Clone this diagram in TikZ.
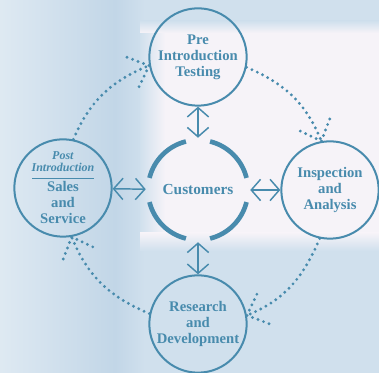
\documentclass[tikz,border=0pt]{standalone}
\usepackage{fontspec}
\setmainfont{Liberation Serif}
\usetikzlibrary{arrows.meta,decorations.markings}

\definecolor{cycleblue}{RGB}{72,139,173}
\definecolor{bgblue}{RGB}{208,224,237}
\definecolor{bgdeep}{RGB}{194,214,231}
\definecolor{bgwhite}{RGB}{246,243,248}

\tikzset{
  bubble/.style={circle,draw=cycleblue,line width=1.5pt,minimum size=73pt,inner sep=0pt,
    text=cycleblue,align=center,font=\bfseries\fontsize{11}{12}\selectfont},
  link/.style={cycleblue,line width=1.1pt,
    {Straight Barb[length=7pt,width=16pt]}-{Straight Barb[length=7pt,width=16pt]}},
  dotted line/.style={cycleblue,line width=2.4pt,line cap=round,dash pattern=on 0pt off 4.4pt},
  dotarrow/.style={dotted line,postaction={decorate},
    decoration={markings,mark=at position 1 with
      {\draw[dotted line] (-13pt,12pt) -- (0,0) -- (-13pt,-12pt);}}},
}

\begin{document}
\begin{tikzpicture}[x=0.75pt,y=0.75pt]
\useasboundingbox (0,0) rectangle (379,373);
% blurred backdrop
\fill[bgblue] (0,0) rectangle (379,373);
\shade[left color=bgblue!70!white,right color=bgdeep] (0,0) rectangle (115,373);
\shade[left color=bgdeep,right color=bgblue] (115,0) rectangle (145,373);
\fill[bgwhite] (165,140) rectangle (379,340);
\shade[left color=bgblue,right color=bgwhite] (140,140) rectangle (165,340);
\shade[top color=bgblue,bottom color=bgwhite] (140,340) rectangle (379,352);
\shade[top color=bgwhite,bottom color=bgblue] (140,122) rectangle (379,140);

\node (cust) [circle,minimum size=78pt,inner sep=0pt,text=cycleblue,
  font=\bfseries\fontsize{11.5}{14}\selectfont] at (198,183) {Customers};
\foreach \a in {0,90,180,270}
  \draw[cycleblue,line width=3.5pt] ([shift={(\a+14:50)}]cust.center)
    arc[start angle=\a+14,end angle=\a+76,radius=50];

\node (pre) [bubble] at (198,316) {Pre\\Introduction\\Testing};
\node (insp) [bubble] at (330,183) {Inspection\\and\\Analysis};
\node (res) [bubble] at (198,49) {Research\\and\\Development};
\node (post) [bubble] at (63,185) {\textit{\fontsize{9}{9}\selectfont Post}\\[-3pt]
  \textit{\fontsize{9}{9}\selectfont Introduction}\\[-6.8pt]
  \rule{46pt}{0.6pt}\\[-2pt]Sales\\and\\Service};

\draw [link] (pre)--(cust);
\draw [link] (insp)--(cust);
\draw [link] (res)--(cust);
\draw [link] (post)--(cust);

\draw [dotarrow] (pre.-12) to[out=-23,in=112] (insp.100);
\draw [dotarrow] (insp.-102) to[out=-113,in=22] (res.10);
\draw [dotarrow] (res.168) to[out=157,in=-68] (post.-80);
\draw [dotarrow] (post.78) to[out=67,in=-158] (pre.190);
\end{tikzpicture}
\end{document}
